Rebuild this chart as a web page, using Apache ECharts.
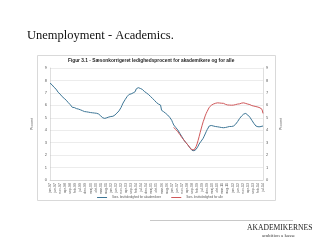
<!DOCTYPE html>
<html>
<head>
<meta charset="utf-8">
<script src="https://cdn.jsdelivr.net/npm/echarts@6/dist/echarts.min.js"></script>
<style>
    html, body {margin: 0; padding: 0; background: #fff;}
    #chart {width: 320px; height: 240px;}
</style>
</head>
<body>
<div id="chart"></div>
<script>
    // monthly, jan-97 .. jul-14
    const monthNames = ['jan', 'feb', 'mar', 'apr', 'maj', 'jun', 'jul', 'aug', 'sep', 'okt', 'nov', 'dec'];
    const firstYear = 1997;
    const monthCount = 211;

    // seasonally adjusted unemployment, academics (%)
    const academics = [
        7.78, 7.72, 7.65, 7.55, 7.45, 7.38, 7.3, 7.18, 7.05, 6.96, 6.9, 6.82,
        6.7, 6.62, 6.56, 6.5, 6.41, 6.33, 6.22, 6.16, 6.05, 5.96, 5.84, 5.8,
        5.82, 5.78, 5.74, 5.76, 5.7, 5.72, 5.64, 5.6, 5.57, 5.55, 5.5, 5.52,
        5.48, 5.49, 5.45, 5.44, 5.42, 5.38, 5.4, 5.36, 5.38, 5.34, 5.36, 5.35,
        5.3, 5.22, 5.15, 5.09, 5.0, 4.87, 4.95, 5.02, 5.0, 5.04, 5.06, 5.09,
        5.1, 5.14, 5.12, 5.18, 5.22, 5.3, 5.38, 5.45, 5.55, 5.62, 5.82, 6.0,
        6.18, 6.3, 6.45, 6.58, 6.7, 6.8, 6.88, 6.96, 6.92, 7.0, 7.0, 6.94,
        7.1, 7.32, 7.45, 7.42, 7.38, 7.36, 7.3, 7.28, 7.2, 7.12, 7.05, 7.0,
        6.96, 6.88, 6.8, 6.72, 6.64, 6.56, 6.48, 6.4, 6.3, 6.22, 6.16, 6.1,
        6.05, 6.02, 5.6, 5.75, 5.49, 5.42, 5.36, 5.3, 5.22, 5.12, 5.04, 4.95,
        4.8, 4.6, 4.42, 4.32, 4.22, 4.12, 4.02, 3.88, 3.75, 3.61, 3.48, 3.35,
        3.21, 3.1, 3.0, 2.9, 2.81, 2.7, 2.58, 2.46, 2.38, 2.33, 2.35, 2.4,
        2.46, 2.58, 2.72, 2.89, 3.0, 3.12, 3.24, 3.35, 3.52, 3.7, 3.88, 4.05,
        4.2, 4.34, 4.36, 4.38, 4.35, 4.34, 4.32, 4.3, 4.31, 4.28, 4.28, 4.25,
        4.24, 4.22, 4.2, 4.2, 4.18, 4.22, 4.24, 4.26, 4.28, 4.3, 4.32, 4.3,
        4.33, 4.34, 4.4, 4.48, 4.55, 4.7, 4.82, 4.95, 5.05, 5.15, 5.22, 5.3,
        5.34, 5.35, 5.3, 5.22, 5.14, 5.05, 4.92, 4.8, 4.68, 4.55, 4.45, 4.34,
        4.3, 4.28, 4.27, 4.28, 4.3, 4.32, 4.34
    ];

    // seasonally adjusted unemployment, all (%), starts at month index 122
    const allStart = 122;
    const allWorkers = [
        4.23, 4.12, 4.05, 3.96, 3.88, 3.76, 3.65, 3.53, 3.42, 3.32,
        3.21, 3.1, 3.0, 2.9, 2.81, 2.7, 2.58, 2.49, 2.44, 2.41,
        2.42, 2.52, 2.68, 2.9, 3.18, 3.48, 3.8, 4.1, 4.4, 4.68,
        4.9, 5.15, 5.35, 5.52, 5.68, 5.84, 5.92, 6.0, 6.05, 6.1,
        6.14, 6.16, 6.18, 6.2, 6.2, 6.19, 6.18, 6.17, 6.16, 6.16,
        6.12, 6.08, 6.05, 6.03, 6.02, 6.02, 6.0, 6.01, 6.02, 6.02,
        6.04, 6.06, 6.08, 6.1, 6.1, 6.12, 6.15, 6.18, 6.2, 6.2,
        6.18, 6.15, 6.12, 6.1, 6.1, 6.06, 6.02, 5.98, 5.96, 5.94,
        5.92, 5.9, 5.88, 5.86, 5.84, 5.8, 5.75, 5.68, 5.35
    ];

    const seriesNames = ['Sæs. bruttoledighed for akademikere', 'Sæs. bruttoledighed for alle'];

    var months = [];
    for (var i = 0; i < monthCount; i++) {
        var y = firstYear + Math.floor(i / 12);
        months.push(monthNames[i % 12] + '-' + String(y).slice(2));
    }
    var allData = [];
    for (var i = 0; i < monthCount; i++) {
        allData.push(i < allStart ? null : allWorkers[i - allStart]);
    }

    const small = {fontSize: 4, color: '#595959', fontFamily: 'Liberation Sans'};
    const yAxisBase = {
        type: 'value', min: 0, max: 9, interval: 1,
        name: 'Procent', nameLocation: 'middle', nameGap: 8,
        nameTextStyle: {fontSize: 3.5, color: '#595959'},
        axisLine: {show: true, lineStyle: {color: '#bfbfbf', width: 0.5}},
        axisTick: {show: false},
        axisLabel: Object.assign({margin: 3}, small),
        splitLine: {lineStyle: {color: '#d9d9d9', width: 0.5}}
    };

    var chart = echarts.init(document.getElementById('chart'), null, {renderer: 'canvas'});
    chart.setOption({
        animation: false,
        backgroundColor: '#fff',
        graphic: [
            {type: 'rect', shape: {x: 37.5, y: 55.5, width: 238, height: 145}, z: -10,
                style: {fill: '#fff', stroke: '#d9d9d9', lineWidth: 1}},
            {type: 'text', left: 27, top: 29,
                style: {text: 'Unemployment - Academics.', fontSize: 12.5, fontFamily: 'Liberation Serif', fill: '#111'}},
            {type: 'text', left: 68, top: 58,
                style: {text: 'Figur 3.1 - Sæsonkorrigeret ledighedsprocent for akademikere og for alle',
                    fontSize: 4.8, fontWeight: 'bold', fontFamily: 'Liberation Sans', fill: '#262626'}},
            {type: 'line', shape: {x1: 150, y1: 220.5, x2: 293, y2: 220.5},
                style: {stroke: '#c8c8c8', lineWidth: 1}},
            {type: 'text', left: 247, top: 224,
                style: {text: 'AKADEMIKERNES', fontSize: 7.6, fontFamily: 'Liberation Serif', fill: '#222'}},
            {type: 'text', left: 262, top: 233,
                style: {text: 'ambition a kasse', fontSize: 5, fontFamily: 'Liberation Serif', fill: '#444'}}
        ],
        legend: {
            top: 191, left: 'center', itemWidth: 10, itemHeight: 1, itemGap: 10,
            icon: 'rect',
            textStyle: {fontSize: 3, color: '#595959'},
            data: seriesNames
        },
        grid: {left: 50, right: 57, top: 68, bottom: 60},
        xAxis: {
            type: 'category', data: months, boundaryGap: false,
            axisLine: {lineStyle: {color: '#bfbfbf', width: 0.5}},
            axisTick: {show: false},
            axisLabel: Object.assign({rotate: 90, interval: 4, margin: 3}, small, {fontSize: 3.5})
        },
        yAxis: [
            Object.assign({position: 'left'}, yAxisBase),
            Object.assign({position: 'right'}, yAxisBase, {splitLine: {show: false}})
        ],
        series: [
            {name: seriesNames[0], type: 'line', data: academics, yAxisIndex: 0,
                symbol: 'none', color: '#3d7696', lineStyle: {width: 1}},
            {name: seriesNames[1], type: 'line', data: allData, yAxisIndex: 0,
                symbol: 'none', color: '#d0585a', lineStyle: {width: 1}}
        ]
    });
</script>
</body>
</html>
